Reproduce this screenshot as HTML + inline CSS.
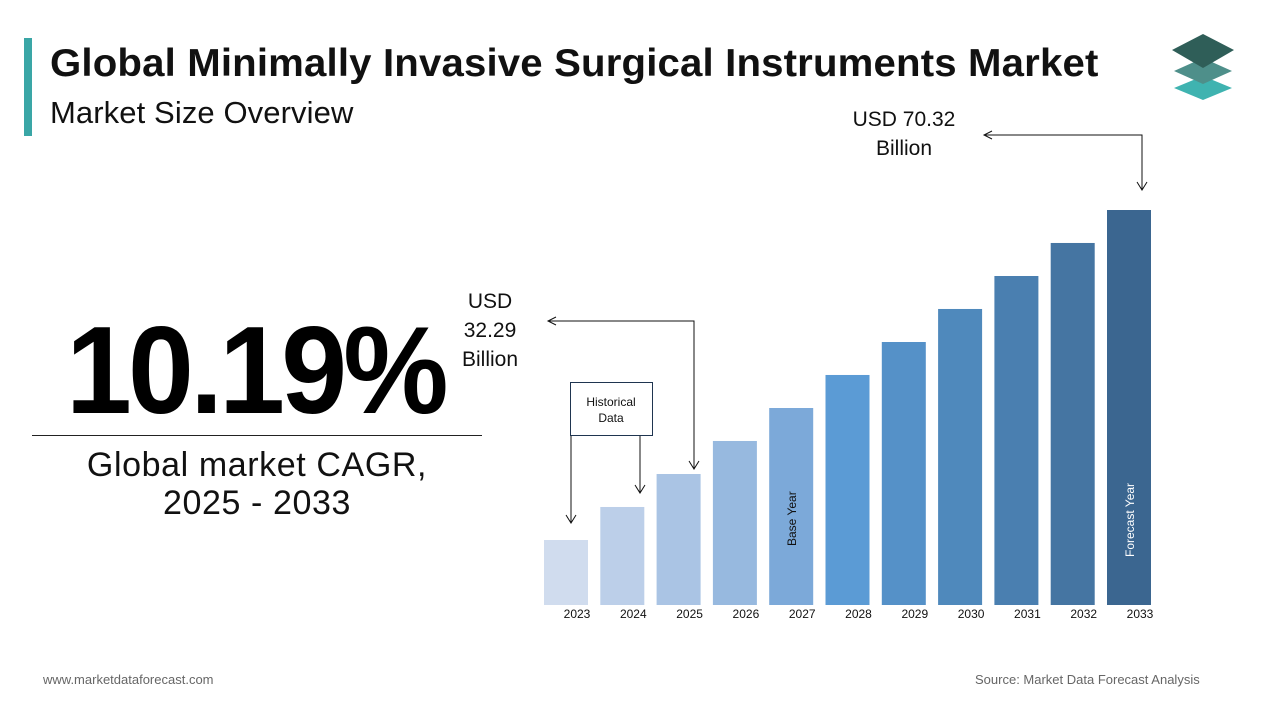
<!DOCTYPE html>
<html><head><meta charset="utf-8"><style>
body{margin:0;width:1280px;height:720px;background:#fff;font-family:"Liberation Sans",sans-serif;overflow:hidden;position:relative}
.abs{position:absolute}
</style></head><body>
<div class="abs" style="left:24px;top:38px;width:8px;height:98px;background:#3aa6a6"></div>
<div class="abs" style="left:50px;top:42px;font-size:39px;font-weight:bold;color:#111;letter-spacing:0.15px;transform:scaleX(1.03);transform-origin:left">Global Minimally Invasive Surgical Instruments Market</div>
<div class="abs" style="left:50px;top:95px;font-size:31px;color:#111;letter-spacing:0.1px">Market Size Overview</div>
<svg class="abs" style="left:1168px;top:30px" width="70" height="72">
<polygon points="35,46 64,58 35,70 6,58" fill="#3fb3b0"/>
<polygon points="35,28 64,41 35,54 6,41" fill="#4e8f8a"/>
<polygon points="35,4 66,20 35,38 4,20" fill="#2f5e58"/>
</svg>
<div class="abs" style="left:66px;top:300px;font-size:124px;font-weight:bold;color:#000;letter-spacing:-4px;transform:scaleX(0.955);transform-origin:left">10.19%</div>
<div class="abs" style="left:32px;top:435px;width:450px;height:1px;background:#222"></div>
<div class="abs" style="left:32px;top:446px;width:450px;text-align:center;font-size:34px;line-height:38px;color:#111;letter-spacing:0.6px">Global market CAGR,<br>2025 - 2033</div>
<div class="abs" style="left:43px;top:672px;font-size:13px;color:#666">www.marketdataforecast.com</div>
<div class="abs" style="left:975px;top:672px;font-size:13px;color:#666">Source: Market Data Forecast Analysis</div>
<svg class="abs" id="chart" style="left:0;top:0" width="1280" height="720"></svg>
<script>
const years=["2023","2024","2025","2026","2027","2028","2029","2030","2031","2032","2033"];
const values=[11.57,17.45,23.32,29.2,35.07,40.95,46.82,52.7,58.57,64.45,70.32];
const colors=["#d0dcee","#bccfe9","#aac4e4","#97b9df","#7ca9d9","#5b9bd5","#5591c8","#4f89bc","#4a7fb0","#4575a2","#3b6690"];
const svg=document.getElementById('chart');
const NS="http://www.w3.org/2000/svg";
const baseY=605, pxPer=395/70.32, x0=544, pitch=56.3, bw=44;
const xs=i=>x0+i*pitch;
const ys=v=>baseY-v*pxPer;
function mk(t,a,txt){const e=document.createElementNS(NS,t);for(const k in a)e.setAttribute(k,a[k]);if(txt!=null)e.textContent=txt;svg.appendChild(e);return e;}
years.forEach((y,i)=>{
 const r=mk('rect',{x:xs(i),y:ys(values[i]),width:bw,height:baseY-ys(values[i]),fill:colors[i]});
 
 
 const t=mk('text',{x:xs(i)+bw/2+11,y:618,'text-anchor':'middle','font-size':12,fill:'#111','font-family':'Liberation Sans'},y);
 
 
});
const bt=mk('text',{transform:`translate(${xs(4)+bw/2+5},546) rotate(-90)`,'font-size':12,fill:'#111','font-family':'Liberation Sans'},'Base Year');


const ft=mk('text',{transform:`translate(${xs(10)+bw/2+5},557) rotate(-90)`,'font-size':12,fill:'#fff','font-family':'Liberation Sans'},'Forecast Year');


function arrowLine(pts,name){const p=mk('polyline',{points:pts,fill:'none',stroke:'#111','stroke-width':1});}
arrowLine('571,436 571,523','hist-arrow-2023');arrowLine('566,515 571,523 576,515','hist-arrowhead-2023');
arrowLine('640,436 640,493','hist-arrow-2024');arrowLine('635,485 640,493 645,485','hist-arrowhead-2024');
arrowLine('548,321 694,321 694,469','arrow-2025');arrowLine('556,317 548,321 556,325','arrowhead-2025-left');arrowLine('689,461 694,469 699,461','arrowhead-2025-down');
arrowLine('984,135 1142,135 1142,190','arrow-2033');arrowLine('992,131 984,135 992,139','arrowhead-2033-left');arrowLine('1137,182 1142,190 1147,182','arrowhead-2033-down');
const hb=mk('rect',{x:570.5,y:382.5,width:82,height:53,fill:'#fff',stroke:'#1f3550','stroke-width':1});


mk('text',{x:611,y:406,'text-anchor':'middle','font-size':12,fill:'#111','font-family':'Liberation Sans'},'Historical');
mk('text',{x:611,y:422,'text-anchor':'middle','font-size':12,fill:'#111','font-family':'Liberation Sans'},'Data');
[['USD',490,308],['32.29',490,337],['Billion',490,366]].forEach(([s,x,y])=>{const t=mk('text',{x:x,y:y,'text-anchor':'middle','font-size':21,fill:'#111','font-family':'Liberation Sans'},s);});
[['USD 70.32',904,126],['Billion',904,155]].forEach(([s,x,y])=>{const t=mk('text',{x:x,y:y,'text-anchor':'middle','font-size':21,fill:'#111','font-family':'Liberation Sans'},s);});
</script>
</body></html>
